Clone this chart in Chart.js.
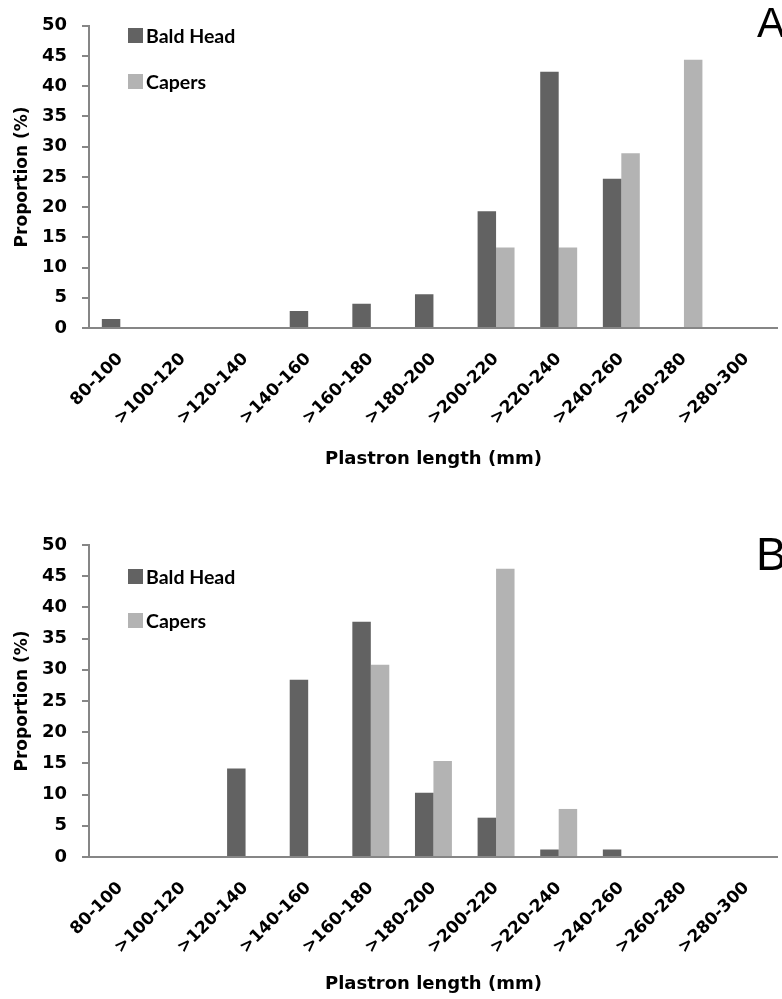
<!DOCTYPE html>
<html lang="en">

<head>
    <meta charset="UTF-8">
    <title>Plastron length distribution</title>
    <script src="https://cdn.jsdelivr.net/npm/chart.js"></script>
    <style>
        body {
            margin: 0;
            background: #fff;
        }

        .page {
            position: relative;
            width: 782px;
            height: 999px;
            overflow: hidden;
        }

        .panel {
            position: absolute;
            left: 0;
            width: 782px;
        }

        #panelA { top: 0; height: 490px; }
        #panelB { top: 490px; height: 509px; }

        .legend-item {
            position: absolute;
            left: 128px;
            height: 24px;
            display: flex;
            align-items: center;
            font-family: 'Lato', sans-serif;
            font-weight: bold;
            font-size: 19.5px;
            color: #000;
            white-space: nowrap;
        }

        .legend-item span.box {
            width: 15px;
            height: 15px;
            margin-right: 3px;
        }

        .panel-letter {
            position: absolute;
            font-family: 'Liberation Sans', Arial, sans-serif;
            color: #000;
        }
    </style>
</head>

<body>
    <div class="page">
        <div class="panel" id="panelA">
            <canvas id="chartA" width="782" height="490"></canvas>
            <div class="panel-letter" style="left:757px; top:2px; font-size:42px; line-height:42px;">A</div>
        </div>
        <div class="panel" id="panelB">
            <canvas id="chartB" width="782" height="509"></canvas>
            <div class="panel-letter" style="left:756px; top:41px; font-size:46px; line-height:46px;">B</div>
        </div>
    </div>
    <script>
        const sizeClasses = ['80-100', '>100-120', '>120-140', '>140-160', '>160-180', '>180-200',
            '>200-220', '>220-240', '>240-260', '>260-280', '>280-300'];

        // panel A
        const baldHeadA = [1.5, 0, 0, 2.8, 4.0, 5.6, 19.3, 42.4, 24.7, 0, 0];
        const capersA = [0, 0, 0, 0, 0, 0, 13.3, 13.3, 28.9, 44.4, 0];

        // panel B
        const baldHeadB = [0, 0, 14.2, 28.4, 37.7, 10.3, 6.3, 1.2, 1.2, 0, 0];
        const capersB = [0, 0, 0, 0, 30.8, 15.4, 46.2, 7.7, 0, 0, 0];

        const seriesNames = ['Bald Head', 'Capers'];
        const seriesColors = ['#626262', '#b3b3b3'];

        const yMax = 50;
        const yStep = 5;

        const axisGray = '#868686';
        const boldFont = (size) => ({ family: "'DejaVu Sans', sans-serif", weight: 'bold', size: size });

        function makeChart(id, bald, capers, cfg) {
            const ctx = document.getElementById(id).getContext('2d');
            return new Chart(ctx, {
                type: 'bar',
                data: {
                    labels: sizeClasses,
                    datasets: [
                        { label: seriesNames[0], data: bald, backgroundColor: seriesColors[0] },
                        { label: seriesNames[1], data: capers, backgroundColor: seriesColors[1] }
                    ]
                },
                options: {
                    responsive: false,
                    animation: false,
                    devicePixelRatio: 1,
                    layout: { padding: { top: cfg.padTop, left: 0, right: 0, bottom: 0 } },
                    datasets: {
                        bar: { categoryPercentage: 0.59, barPercentage: 1.0, borderWidth: 0 }
                    },
                    plugins: {
                        legend: { display: false },
                        tooltip: { enabled: false }
                    },
                    scales: {
                        x: {
                            grid: { display: true, drawOnChartArea: false, drawTicks: false, color: axisGray },
                            border: { color: axisGray, width: 2 },
                            ticks: {
                                autoSkip: false,
                                minRotation: 45,
                                maxRotation: 45,
                                padding: 21,
                                color: '#000',
                                font: boldFont(17)
                            },
                            title: {
                                display: true,
                                text: 'Plastron length (mm)',
                                color: '#000',
                                font: boldFont(18),
                                padding: { top: 0, bottom: cfg.titlePad }
                            },
                            afterFit: (s) => { s.height = cfg.xHeight; }
                        },
                        y: {
                            min: 0,
                            max: yMax,
                            ticks: { stepSize: yStep, padding: 15, color: '#000', font: boldFont(18) },
                            grid: { drawOnChartArea: false, drawTicks: true, tickLength: 7, color: axisGray, lineWidth: 2 },
                            border: { color: axisGray, width: 2 },
                            title: {
                                display: true,
                                text: 'Proportion (%)',
                                color: '#000',
                                font: boldFont(17),
                                padding: { top: 12, bottom: 0 }
                            },
                            afterFit: (s) => { s.width = 89; }
                        }
                    }
                }
            });
        }

        function makeLegend(panelId, firstTop, gap) {
            const panel = document.getElementById(panelId);
            seriesNames.forEach((name, i) => {
                const item = document.createElement('div');
                item.className = 'legend-item';
                item.style.top = (firstTop + i * gap) + 'px';
                item.innerHTML = `<span class="box" style="background:${seriesColors[i]}"></span>${name}`;
                panel.appendChild(item);
            });
        }

        makeChart('chartA', baldHeadA, capersA, { padTop: 15, xHeight: 162, titlePad: 20 });
        makeChart('chartB', baldHeadB, capersB, { padTop: 55, xHeight: 142, titlePad: 4 });

        makeLegend('panelA', 23, 46);
        makeLegend('panelB', 74, 44);
    </script>
</body>

</html>
